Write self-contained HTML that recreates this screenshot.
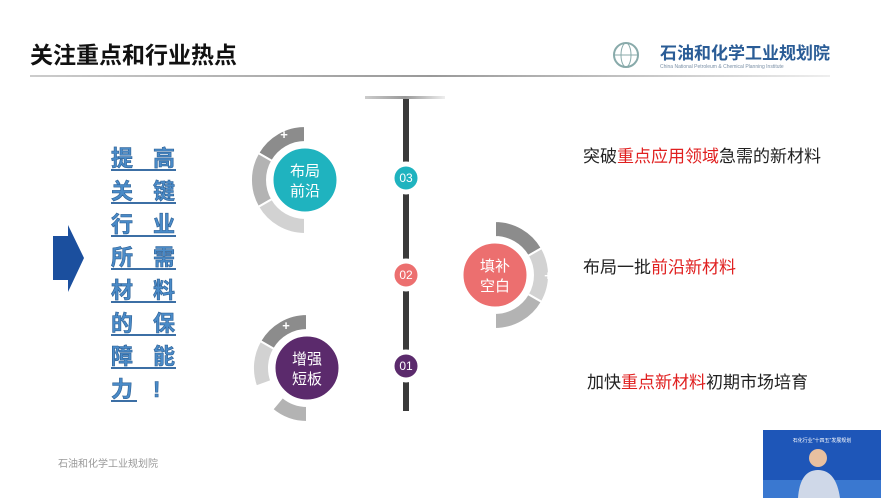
<!DOCTYPE html>
<html><head><meta charset="utf-8"><style>
body{margin:0;width:881px;height:498px;overflow:hidden;background:#fff;font-family:"Liberation Sans","Noto Sans CJK SC",sans-serif;}
</style></head><body>
<svg width="881" height="498" xmlns="http://www.w3.org/2000/svg" style="position:absolute;left:0;top:0">
<defs><linearGradient id="hl" x1="0" x2="1"><stop offset="0" stop-color="#ccc"/><stop offset=".5" stop-color="#999"/><stop offset="1" stop-color="#eee"/></linearGradient></defs>
<text x="30" y="63" font-size="23" font-weight="bold" fill="#111" font-family="Liberation Sans,Noto Sans CJK SC,sans-serif">关注重点和行业热点</text>
<rect x="30" y="75" width="800" height="2" fill="url(#hl)"/>
<circle cx="626" cy="55" r="12" fill="none" stroke="#8aa" stroke-width="2"/>
<ellipse cx="626" cy="55" rx="5" ry="12" fill="none" stroke="#8aa" stroke-width="1"/>
<line x1="614" y1="55" x2="638" y2="55" stroke="#8aa"/>
<text x="660" y="59" font-size="17" font-weight="bold" fill="#2a5c96" font-family="Liberation Sans,Noto Sans CJK SC,sans-serif">石油和化学工业规划院</text>
<text x="660" y="68" font-size="5" fill="#7a8fa5">China National Petroleum &amp; Chemical Planning Institute</text>

<!-- arrow -->
<polygon points="53,236 68,236 68,225 84,258 68,292 68,280 53,280" fill="#1b4f9e"/>

<!-- left text -->
<g font-size="22" font-weight="bold" fill="#4a8bc8" stroke="#2c5f94" stroke-width=".6" font-family="Liberation Sans,Noto Sans CJK SC,sans-serif">
<text x="111" y="166">提</text><text x="153" y="166">高</text>
<text x="111" y="199">关</text><text x="153" y="199">键</text>
<text x="111" y="232">行</text><text x="153" y="232">业</text>
<text x="111" y="265">所</text><text x="153" y="265">需</text>
<text x="111" y="298">材</text><text x="153" y="298">料</text>
<text x="111" y="331">的</text><text x="153" y="331">保</text>
<text x="111" y="364">障</text><text x="153" y="364">能</text>
<text x="111" y="397">力</text><text x="153" y="397">!</text>
</g>
<g fill="#3c6fa5">
<rect x="111" y="169" width="65" height="2"/><rect x="111" y="202" width="65" height="2"/>
<rect x="111" y="235" width="65" height="2"/><rect x="111" y="268" width="65" height="2"/>
<rect x="111" y="301" width="65" height="2"/><rect x="111" y="334" width="65" height="2"/>
<rect x="111" y="367" width="65" height="2"/><rect x="111" y="400" width="26" height="2"/>
</g>

<!-- timeline -->
<rect x="365" y="96" width="80" height="3" fill="url(#hl)"/>
<rect x="403" y="99" width="6" height="312" fill="#3a3a3a"/>
<g stroke="#fff" stroke-width="5">
<circle cx="406" cy="178" r="14" fill="#1fb3bf"/>
<circle cx="406" cy="275" r="14" fill="#ec6f6f"/>
<circle cx="406" cy="366" r="14" fill="#5b2a6c"/>
</g>
<g font-size="12" fill="#fff" text-anchor="middle">
<text x="406" y="182">03</text><text x="406" y="279">02</text><text x="406" y="370">01</text>
</g>

<!-- rings -->
<g stroke="#fff" stroke-width="2">
<path d="M305,126 A54,54 0 0 0 258.2,153 L272.1,161 A38,38 0 0 1 305,142Z" fill="#8c8c8c"/>
<path d="M258.2,153 A54,54 0 0 0 258.2,207 L272.1,199 A38,38 0 0 1 272.1,161Z" fill="#b3b3b3"/>
<path d="M258.2,207 A54,54 0 0 0 305,234 L305,218 A38,38 0 0 1 272.1,199Z" fill="#d2d2d2"/>

<path d="M495,221 A54,54 0 0 1 541.8,248 L527.9,256 A38,38 0 0 0 495,237Z" fill="#8c8c8c"/>
<path d="M541.8,248 A54,54 0 0 1 541.8,302 L527.9,294 A38,38 0 0 0 527.9,256Z" fill="#d2d2d2"/>
<path d="M541.8,302 A54,54 0 0 1 495,329 L495,313 A38,38 0 0 0 527.9,294Z" fill="#b3b3b3"/>

<path d="M307,314 A54,54 0 0 0 260.2,341 L274.1,349 A38,38 0 0 1 307,330Z" fill="#8c8c8c"/>
<path d="M260.2,341 A54,54 0 0 0 256.2,386.5 L271.3,381 A38,38 0 0 1 274.1,349Z" fill="#d2d2d2"/>
<path d="M272.3,409.4 A54,54 0 0 0 307,422 L307,406 A38,38 0 0 1 282.6,397.1Z" fill="#b3b3b3"/>
</g>
<g font-size="13" font-weight="bold" fill="#fff" text-anchor="middle">
<text x="284" y="139">+</text><text x="548" y="280">+</text><text x="286" y="330">+</text>
</g>
<g stroke="#fff" stroke-width="3">
<circle cx="305" cy="180" r="33" fill="#1fb3bf"/>
<circle cx="495" cy="275" r="33" fill="#ec6f6f"/>
<circle cx="307" cy="368" r="33" fill="#5b2a6c"/>
</g>
<g font-size="15" fill="#fff" text-anchor="middle" font-family="Liberation Sans,Noto Sans CJK SC,sans-serif">
<text x="305" y="176">布局</text><text x="305" y="196">前沿</text>
<text x="495" y="271">填补</text><text x="495" y="291">空白</text>
<text x="307" y="364">增强</text><text x="307" y="384">短板</text>
</g>

<!-- right text -->
<g font-size="17" font-family="Liberation Sans,Noto Sans CJK SC,sans-serif" fill="#222">
<text x="583" y="162">突破<tspan fill="#e02020">重点应用领域</tspan>急需的新材料</text>
<text x="583" y="273">布局一批<tspan fill="#e02020">前沿新材料</tspan></text>
<text x="587" y="388">加快<tspan fill="#e02020">重点新材料</tspan>初期市场培育</text>
</g>

<text x="58" y="467" font-size="10" fill="#999" font-family="Liberation Sans,Noto Sans CJK SC,sans-serif">石油和化学工业规划院</text>

<!-- video inset -->
<rect x="763" y="430" width="118" height="68" fill="#1e56b8"/>
<rect x="763" y="480" width="118" height="18" fill="#3a78d0"/>
<text x="822" y="442" font-size="5" fill="#fff" text-anchor="middle">石化行业"十四五"发展规划</text>
<circle cx="818" cy="458" r="9" fill="#e8c0a0"/>
<path d="M798,498 Q800,470 818,470 Q836,470 840,498Z" fill="#cfd8e8"/>
</svg>
</body></html>
